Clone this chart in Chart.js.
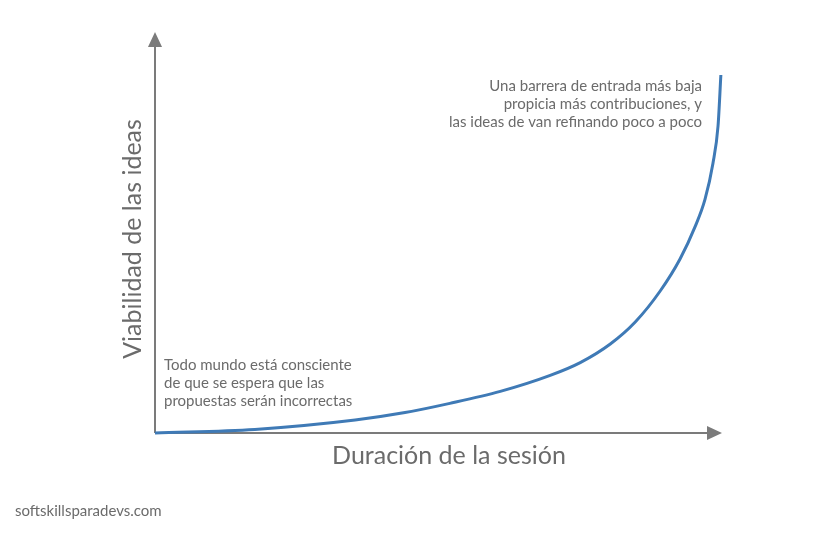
<!DOCTYPE html>
<html>
<head>
<meta charset="utf-8">
<script src="https://cdn.jsdelivr.net/npm/chart.js@4"></script>
<style>
  html, body { margin: 0; padding: 0; background: #fff; }
  #wrap { width: 837px; height: 534px; }
</style>
</head>
<body>
<div id="wrap"><canvas id="chart"></canvas></div>
<script>
// Curve (x: session duration, y: idea viability, 0-100)
const duration = [0, 17.6, 35.3, 44.1, 52, 60.9, 69.7, 75, 80.3, 84.7, 89.1, 92.6, 95.2, 97, 98.4, 99.3, 99.8];
const viability = [0, 0.9, 3.25, 5.1, 7.4, 10.4, 14.4, 17.6, 22.25, 27.75, 35.5, 43.5, 51.4, 58.4, 67.4, 76.75, 89.5];

const xTitle = 'Duración de la sesión';
const yTitle = 'Viabilidad de las ideas';
const noteLow = ['Todo mundo está consciente', 'de que se espera que las', 'propuestas serán incorrectas'];
const noteHigh = ['Una barrera de entrada más baja', 'propicia más contribuciones, y', 'las ideas de van refinando poco a poco'];
const credit = 'softskillsparadevs.com';

const axisColor = '#7b7b7b';
const textColor = '#6b6b6b';

// axes with arrow heads + all the text
const decorations = {
    id: 'decorations',
    beforeDatasetsDraw(chart) {
        const { ctx, chartArea: a } = chart;
        ctx.save();
        ctx.strokeStyle = axisColor;
        ctx.fillStyle = axisColor;
        ctx.lineWidth = 2;
        ctx.beginPath();
        ctx.moveTo(a.left, a.bottom);
        ctx.lineTo(a.left, a.top + 12);
        ctx.moveTo(a.left, a.bottom);
        ctx.lineTo(a.right - 12, a.bottom);
        ctx.stroke();
        // arrow heads
        ctx.beginPath();
        ctx.moveTo(a.left, a.top - 1);
        ctx.lineTo(a.left - 7, a.top + 14);
        ctx.lineTo(a.left + 7, a.top + 14);
        ctx.closePath();
        ctx.fill();
        ctx.beginPath();
        ctx.moveTo(a.right, a.bottom);
        ctx.lineTo(a.right - 15, a.bottom - 7);
        ctx.lineTo(a.right - 15, a.bottom + 7);
        ctx.closePath();
        ctx.fill();
        ctx.restore();
    },
    afterDraw(chart) {
        const { ctx } = chart;
        ctx.save();
        ctx.fillStyle = textColor;
        ctx.textBaseline = 'middle';

        // axis titles
        ctx.font = '25px Lato';
        ctx.textAlign = 'center';
        ctx.fillText(xTitle, 449, 456);
        ctx.save();
        ctx.translate(133, 239);
        ctx.rotate(-Math.PI / 2);
        ctx.fillText(yTitle, 0, 0);
        ctx.restore();

        // notes
        ctx.font = '15px Lato';
        ctx.textAlign = 'left';
        noteLow.forEach((t, i) => ctx.fillText(t, 164, 365 + i * 18));
        ctx.textAlign = 'right';
        noteHigh.forEach((t, i) => ctx.fillText(t, 702, 86 + i * 18));

        ctx.textAlign = 'left';
        ctx.font = '15px Lato';
        ctx.fillText(credit, 15, 511);
        ctx.restore();
    }
};

new Chart(document.getElementById('chart'), {
    type: 'line',
    data: {
        datasets: [{
            data: duration.map((x, i) => ({ x: x, y: viability[i] })),
            borderColor: '#3f7ab6',
            borderWidth: 3,
            pointRadius: 0,
            cubicInterpolationMode: 'monotone',
            clip: false
        }]
    },
    options: {
        responsive: true,
        maintainAspectRatio: false,
        animation: false,
        layout: { padding: { left: 155, right: 115, top: 33, bottom: 101 } },
        scales: {
            x: { type: 'linear', min: 0, max: 100, display: false },
            y: { min: 0, max: 100, display: false }
        },
        plugins: {
            legend: { display: false },
            tooltip: { enabled: false }
        }
    },
    plugins: [decorations]
});
</script>
</body>
</html>
